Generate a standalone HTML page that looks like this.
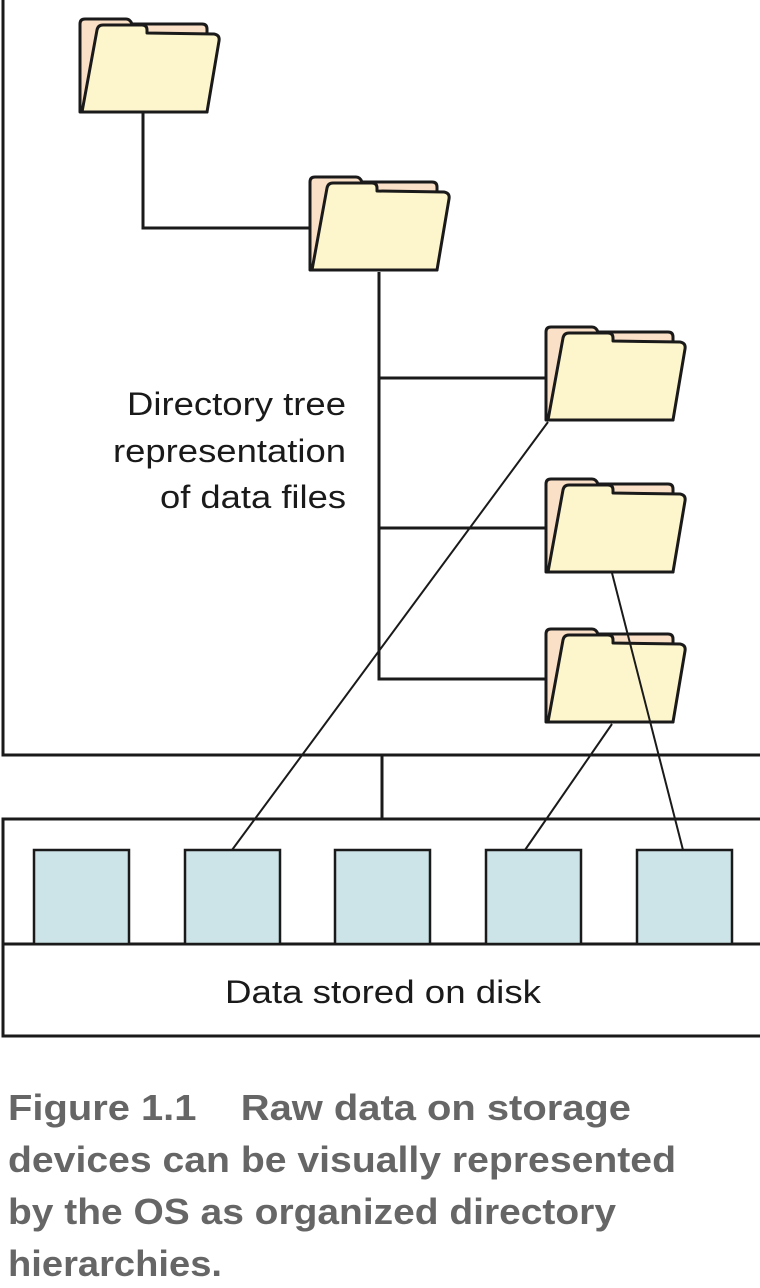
<!DOCTYPE html>
<html><head><meta charset="utf-8"><style>html,body{margin:0;padding:0;background:#fff}svg{display:block}</style></head>
<body>
<svg width="760" height="1288" viewBox="0 0 760 1288" xmlns="http://www.w3.org/2000/svg">
<defs>
<g id="fold" stroke="#1a1a1a" stroke-width="3" stroke-linejoin="round">
<path d="M0,94 L0,6 Q0,1 5,1 L46,1 Q50,1 52,6 L122,6 Q127,6 127,11 L127,94 Z" fill="#fbe0c8"/>
<path d="M2,94 L17,12 Q18,7 23,7 L62,7 Q67,7 67,12 L67,15 L134,16 Q140,17 139,23 L127,94 Z" fill="#fdf6cc"/>
</g>
</defs>
<g stroke="#1a1a1a" stroke-width="3" fill="none">
<path d="M3,0 V755 H760"/>
<path d="M143,112 V228 H312"/>
<path d="M379,272 V679 H548 M379,378 H548 M379,528 H548"/>
<path d="M382,755 V819"/>
<rect x="3" y="819" width="760" height="217" fill="#fff"/>
<path d="M3,944 H760"/>
</g>
<g fill="#cce3e8" stroke="#1a1a1a" stroke-width="2.5">
<rect x="34" y="850" width="95" height="94"/>
<rect x="185" y="850" width="95" height="94"/>
<rect x="335" y="850" width="95" height="94"/>
<rect x="486" y="850" width="95" height="94"/>
<rect x="637" y="850" width="95" height="94"/>
</g>
<use href="#fold" x="80" y="18"/>
<use href="#fold" x="310" y="176"/>
<use href="#fold" x="546" y="326"/>
<use href="#fold" x="546" y="478"/>
<use href="#fold" x="546" y="628"/>
<g stroke="#1a1a1a" stroke-width="2">
<line x1="548" y1="422" x2="232" y2="850"/>
<line x1="612" y1="573" x2="683" y2="850"/>
<line x1="612" y1="724" x2="525" y2="850"/>
</g>
<g font-family="Liberation Sans, sans-serif" font-size="32" fill="#1a1a1a">
<text x="127" y="415" textLength="219" lengthAdjust="spacingAndGlyphs">Directory tree</text>
<text x="113" y="462" textLength="233" lengthAdjust="spacingAndGlyphs">representation</text>
<text x="160" y="508" textLength="186" lengthAdjust="spacingAndGlyphs">of data files</text>
<text x="225" y="1003" textLength="316" lengthAdjust="spacingAndGlyphs">Data stored on disk</text>
</g>
<g font-family="Liberation Sans Narrow, Liberation Sans, sans-serif" font-weight="bold" font-size="36" fill="#666">
<text x="8" y="1120" textLength="623" lengthAdjust="spacingAndGlyphs" xml:space="preserve">Figure 1.1    Raw data on storage</text>
<text x="8" y="1172" textLength="668" lengthAdjust="spacingAndGlyphs">devices can be visually represented</text>
<text x="8" y="1224" textLength="608" lengthAdjust="spacingAndGlyphs">by the OS as organized directory</text>
<text x="8" y="1276" textLength="214" lengthAdjust="spacingAndGlyphs">hierarchies.</text>
</g>
</svg>
</body></html>
